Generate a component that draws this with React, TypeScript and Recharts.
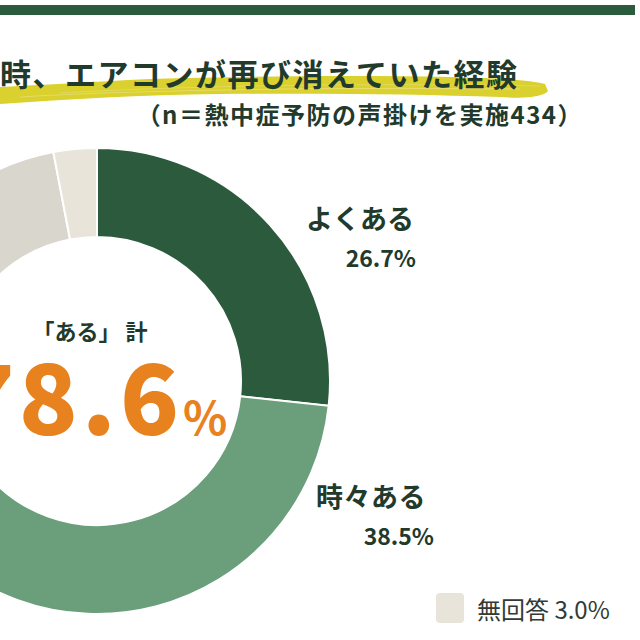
import React from 'react';
import { PieChart, Pie, Cell } from 'recharts';

const categories = ['よくある', '時々ある', 'たまにある', 'ない', '無回答'];
const values = [26.7, 38.5, 13.4, 18.4, 3.0];
const colors = ['#2b5a3d', '#6b9e7b', '#a9c7a5', '#d9d6cd', '#e8e4da'];
const titleText = '時、エアコンが再び消えていた経験';
const subtitleText = '（n＝熱中症予防の声掛けを実施434）';
const totalLabel = '「ある」 計';
const totalValue = '78.6';

const data = categories.map((name, i) => ({ name, value: values[i] }));

const FONT = '"Noto Sans CJK JP", "Noto Sans", sans-serif';
const DARK = '#213a2c';

export default function App() {
  const pct = (i: number) => `${values[i].toFixed(1)}%`;
  return (
    <div style={{ position: 'fixed', left: 0, top: 0, width: 640, height: 640, background: '#fff', overflow: 'hidden' }}>
      <div style={{ position: 'absolute', left: 0, top: 0 }}>
        <PieChart width={640} height={640} margin={{ top: 0, right: 0, bottom: 0, left: 0 }}>
          <Pie
            data={data}
            dataKey="value"
            nameKey="name"
            cx={97}
            cy={381}
            innerRadius={144}
            outerRadius={233}
            startAngle={90}
            endAngle={-270}
            stroke="#ffffff"
            strokeWidth={2}
            isAnimationActive={false}
            label={false}
            labelLine={false}
          >
            {data.map((d, i) => (
              <Cell key={d.name} fill={colors[i]} />
            ))}
          </Pie>
        </PieChart>
      </div>
      <svg width={640} height={640} style={{ position: 'absolute', left: 0, top: 0, pointerEvents: 'none' }}>
        <rect x={0} y={5} width={635} height={10} fill="#2b5a3d" />
        <path
          d="M0,87 C40,85 90,82 150,79 C250,76 360,75 450,77 C500,78 530,80 545,84 L548,91 C544,96 530,99 500,97 C420,94 320,93 220,94 C140,95 70,99 0,104 Z"
          fill="#dad02e"
        />
        <path d="M20,97 C120,91 300,87 520,89" stroke="#ebe48a" strokeWidth={1.2} fill="none" opacity={0.6} />
        <path d="M60,93 C200,85 380,83 540,86" stroke="#ebe48a" strokeWidth={1} fill="none" opacity={0.5} />
        <text x={0} y={86} fontFamily={FONT} fontWeight={700} fontSize={31} letterSpacing={1.5} fill={DARK}>
          {titleText}
        </text>
        <text x={583} y={124} textAnchor="end" fontFamily={FONT} fontWeight={700} fontSize={24} letterSpacing={1.5} fill={DARK}>
          {subtitleText}
        </text>

        <text x={90} y={340} textAnchor="middle" fontFamily={FONT} fontWeight={700} fontSize={22} fill={DARK}>
          {totalLabel}
        </text>
        <text x={183} y={435} textAnchor="end" fontFamily={FONT} fontWeight={900} fontSize={97} letterSpacing={4} fill="#e8821f">
          {totalValue}
        </text>
        <text x={183} y={435} fontFamily={FONT} fontWeight={700} fontSize={46} fill="#e8821f">
          %
        </text>

        <text x={306} y={229} fontFamily={FONT} fontWeight={700} fontSize={27} fill={DARK}>
          {categories[0]}
        </text>
        <text x={416} y={267} textAnchor="end" fontFamily={FONT} fontWeight={700} fontSize={23} fill={DARK}>
          {pct(0)}
        </text>
        <text x={316} y={507} fontFamily={FONT} fontWeight={700} fontSize={27} letterSpacing={0.5} fill={DARK}>
          {categories[1]}
        </text>
        <text x={434} y={545} textAnchor="end" fontFamily={FONT} fontWeight={700} fontSize={23} fill={DARK}>
          {pct(1)}
        </text>

        <rect x={436} y={593} width={28} height={30} rx={4} fill={colors[4]} />
        <text x={477} y={619} fontFamily={FONT} fontWeight={400} fontSize={24} fill="#333a36">
          {`${categories[4]} ${pct(4)}`}
        </text>
      </svg>
    </div>
  );
}
